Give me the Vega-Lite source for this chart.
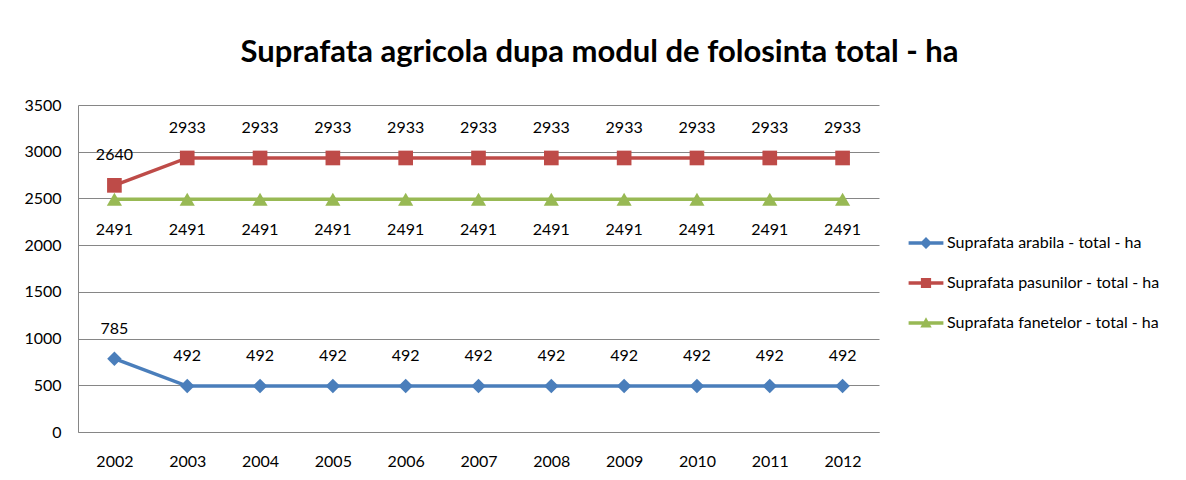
{
  "$schema": "https://vega.github.io/schema/vega-lite/v6.json",
  "width": 801,
  "height": 327,
  "autosize": {"type": "none"},
  "padding": {"left": 78, "top": 105, "right": 307, "bottom": 48},
  "background": "white",
  "title": {
    "text": "Suprafata agricola dupa modul de folosinta total - ha",
    "font": "Lato",
    "fontSize": 31,
    "fontWeight": "bold",
    "color": "#000000",
    "anchor": "middle",
    "frame": "group",
    "dx": 121,
    "offset": 28
  },
  "config": {
    "view": {"stroke": null},
    "font": "Lato",
    "axis": {
      "labelFont": "Lato",
      "labelFontSize": 16,
      "labelColor": "#000000",
      "domainColor": "#868686",
      "gridColor": "#868686",
      "ticks": false,
      "title": null
    },
    "legend": {
      "title": null,
      "orient": "none",
      "legendX": 840,
      "legendY": 130,
      "padding": 0,
      "symbolSize": 144,
      "symbolOpacity": 1,
      "symbolStrokeWidth": 0,
      "labelOffset": 13,
      "rowPadding": 24,
      "labelFont": "Lato",
      "labelFontSize": 16,
      "labelColor": "#000000",
      "labelLimit": 400
    }
  },
  "data": {
    "values": [
      {"year": "2002", "series": "Suprafata arabila - total - ha", "value": 785},
      {"year": "2003", "series": "Suprafata arabila - total - ha", "value": 492},
      {"year": "2004", "series": "Suprafata arabila - total - ha", "value": 492},
      {"year": "2005", "series": "Suprafata arabila - total - ha", "value": 492},
      {"year": "2006", "series": "Suprafata arabila - total - ha", "value": 492},
      {"year": "2007", "series": "Suprafata arabila - total - ha", "value": 492},
      {"year": "2008", "series": "Suprafata arabila - total - ha", "value": 492},
      {"year": "2009", "series": "Suprafata arabila - total - ha", "value": 492},
      {"year": "2010", "series": "Suprafata arabila - total - ha", "value": 492},
      {"year": "2011", "series": "Suprafata arabila - total - ha", "value": 492},
      {"year": "2012", "series": "Suprafata arabila - total - ha", "value": 492},
      {"year": "2002", "series": "Suprafata pasunilor - total - ha", "value": 2640},
      {"year": "2003", "series": "Suprafata pasunilor - total - ha", "value": 2933},
      {"year": "2004", "series": "Suprafata pasunilor - total - ha", "value": 2933},
      {"year": "2005", "series": "Suprafata pasunilor - total - ha", "value": 2933},
      {"year": "2006", "series": "Suprafata pasunilor - total - ha", "value": 2933},
      {"year": "2007", "series": "Suprafata pasunilor - total - ha", "value": 2933},
      {"year": "2008", "series": "Suprafata pasunilor - total - ha", "value": 2933},
      {"year": "2009", "series": "Suprafata pasunilor - total - ha", "value": 2933},
      {"year": "2010", "series": "Suprafata pasunilor - total - ha", "value": 2933},
      {"year": "2011", "series": "Suprafata pasunilor - total - ha", "value": 2933},
      {"year": "2012", "series": "Suprafata pasunilor - total - ha", "value": 2933},
      {"year": "2002", "series": "Suprafata fanetelor - total - ha", "value": 2491},
      {"year": "2003", "series": "Suprafata fanetelor - total - ha", "value": 2491},
      {"year": "2004", "series": "Suprafata fanetelor - total - ha", "value": 2491},
      {"year": "2005", "series": "Suprafata fanetelor - total - ha", "value": 2491},
      {"year": "2006", "series": "Suprafata fanetelor - total - ha", "value": 2491},
      {"year": "2007", "series": "Suprafata fanetelor - total - ha", "value": 2491},
      {"year": "2008", "series": "Suprafata fanetelor - total - ha", "value": 2491},
      {"year": "2009", "series": "Suprafata fanetelor - total - ha", "value": 2491},
      {"year": "2010", "series": "Suprafata fanetelor - total - ha", "value": 2491},
      {"year": "2011", "series": "Suprafata fanetelor - total - ha", "value": 2491},
      {"year": "2012", "series": "Suprafata fanetelor - total - ha", "value": 2491}
    ]
  },
  "encoding": {
    "x": {
      "field": "year",
      "type": "ordinal",
      "scale": {"type": "point", "padding": 0.5},
      "axis": {"labelAngle": 0, "labelPadding": 21, "domain": true, "grid": false}
    },
    "y": {
      "field": "value",
      "type": "quantitative",
      "scale": {"domain": [0, 3500], "nice": false},
      "axis": {"values": [0, 500, 1000, 1500, 2000, 2500, 3000, 3500], "format": "d", "labelPadding": 17, "grid": true}
    }
  },
  "layer": [
    {
      "mark": {"type": "point", "filled": true, "size": 144, "opacity": 0},
      "encoding": {
        "color": {
          "field": "series",
          "type": "nominal",
          "scale": {
            "domain": ["Suprafata arabila - total - ha", "Suprafata pasunilor - total - ha", "Suprafata fanetelor - total - ha"],
            "range": ["#4A7EBB", "#BE4B48", "#98B954"]
          }
        },
        "shape": {
          "field": "series",
          "type": "nominal",
          "scale": {
            "domain": ["Suprafata arabila - total - ha", "Suprafata pasunilor - total - ha", "Suprafata fanetelor - total - ha"],
            "range": [
              "M-2.9,-0.3H2.9V0.3H-2.9Z M0,-1L1,0L0,1L-1,0Z",
              "M-2.9,-0.3H2.9V0.3H-2.9Z M-0.85,-0.85H0.85V0.85H-0.85Z",
              "M-2.9,-0.3H2.9V0.3H-2.9Z M0,-0.95L0.95,0.75H-0.95Z"
            ]
          }
        }
      }
    },
    {
      "mark": {"type": "line", "strokeWidth": 3.5},
      "encoding": {"color": {"field": "series", "type": "nominal"}}
    },
    {
      "transform": [{"filter": "datum.series === 'Suprafata arabila - total - ha'"}],
      "mark": {"type": "point", "filled": true, "size": 210, "opacity": 1, "shape": "diamond"},
      "encoding": {"color": {"field": "series", "type": "nominal"}}
    },
    {
      "transform": [{"filter": "datum.series === 'Suprafata pasunilor - total - ha'"}],
      "mark": {"type": "point", "filled": true, "size": 215, "opacity": 1, "shape": "square"},
      "encoding": {"color": {"field": "series", "type": "nominal"}}
    },
    {
      "transform": [{"filter": "datum.series === 'Suprafata fanetelor - total - ha'"}],
      "mark": {"type": "point", "filled": true, "size": 230, "opacity": 1, "shape": "triangle-up"},
      "encoding": {"color": {"field": "series", "type": "nominal"}}
    },
    {
      "transform": [{"filter": "datum.series !== 'Suprafata fanetelor - total - ha'"}],
      "mark": {"type": "text", "dy": -30, "fontSize": 16, "font": "Lato", "color": "#000000"},
      "encoding": {"text": {"field": "value", "type": "quantitative"}}
    },
    {
      "transform": [{"filter": "datum.series === 'Suprafata fanetelor - total - ha'"}],
      "mark": {"type": "text", "dy": 31, "fontSize": 16, "font": "Lato", "color": "#000000"},
      "encoding": {"text": {"field": "value", "type": "quantitative"}}
    }
  ]
}
